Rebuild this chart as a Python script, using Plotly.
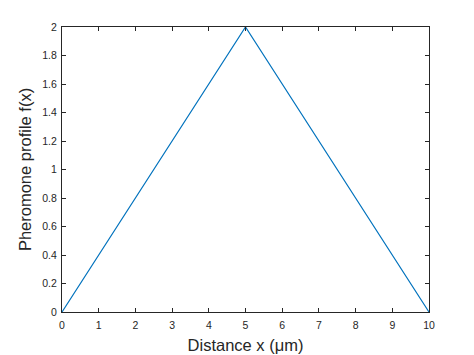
import plotly.graph_objects as go

x_vals = [0, 5, 10]
y_vals = [0, 2, 0]
x_ticks = list(range(0, 11))
y_ticks = [0, 0.2, 0.4, 0.6, 0.8, 1, 1.2, 1.4, 1.6, 1.8, 2]
y_tick_text = ["0", "0.2", "0.4", "0.6", "0.8", "1", "1.2", "1.4", "1.6", "1.8", "2"]

FONT = "Liberation Sans, Arial, sans-serif"
INK = "#262626"

fig = go.Figure()
fig.add_trace(go.Scatter(x=x_vals, y=y_vals, mode="lines",
                         line=dict(color="#0072BD", width=1.2), showlegend=False))

axis_common = dict(showgrid=False, zeroline=False, showline=True, linecolor=INK,
                   linewidth=1, mirror="ticks", ticks="inside", ticklen=4,
                   tickcolor=INK, tickwidth=1,
                   tickfont=dict(family=FONT, size=10.5, color=INK))

fig.update_xaxes(range=[0, 10], tickvals=x_ticks, ticklabelstandoff=3,
                 title=dict(text="Distance x (μm)", standoff=9,
                            font=dict(family=FONT, size=16.5, color=INK)),
                 **axis_common)
fig.update_yaxes(range=[0, 2], tickvals=y_ticks, ticktext=y_tick_text, ticklabelstandoff=2,
                 title=dict(text="Pheromone profile f(x)", standoff=6,
                            font=dict(family=FONT, size=16.5, color=INK)),
                 **axis_common)

# page body has an 8px margin; shift margins to place the plot area as in the reference
fig.update_layout(width=474, height=355, margin=dict(l=54, r=53, t=19, b=51),
                  paper_bgcolor="white", plot_bgcolor="white")

fig.write_html("out.html")
